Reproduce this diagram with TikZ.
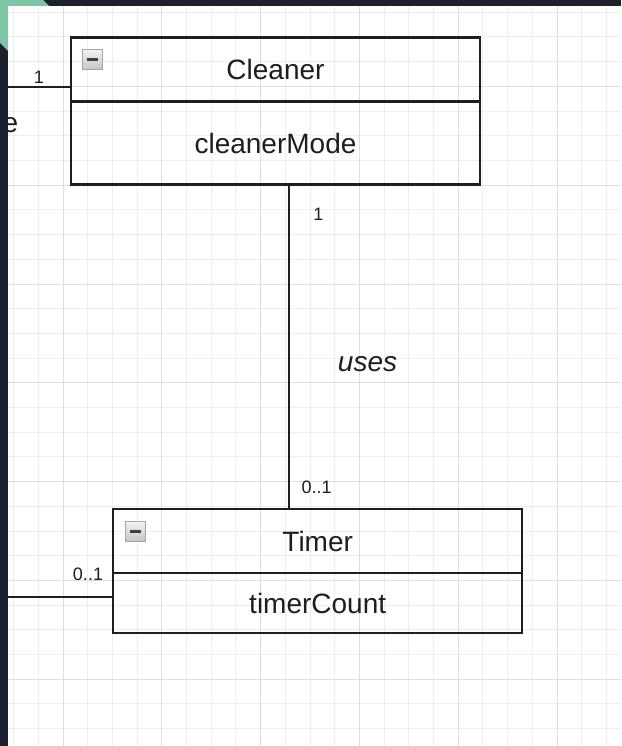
\documentclass[tikz,border=0pt]{standalone}
\usepackage{xcolor}
\usepackage{fontspec}
\usepackage{tikz}
\setmainfont{Liberation Sans}
\usetikzlibrary{positioning}
\definecolor{ink}{RGB}{30,30,30}
\definecolor{frame}{RGB}{28,33,45}
\definecolor{mint}{RGB}{125,197,165}
\definecolor{gridmin}{RGB}{238,238,238}
\definecolor{gridmaj}{RGB}{222,222,222}

\begin{document}
\begin{tikzpicture}[x=1pt, y=-1pt,
    head/.style={rectangle, draw=ink, line width=2.2pt, outer sep=0pt,
                 minimum width=409pt, minimum height=64pt, inner sep=0pt,
                 text=ink, font=\fontsize{28}{32}\selectfont},
    attr/.style={head, minimum height=#1},
    fold/.style={rectangle, draw=gray!70, top color=gray!10, bottom color=gray!45,
                 minimum size=20pt, inner sep=0pt},
    assoc/.style={draw=ink, line width=2.2pt},
    mult/.style={anchor=base, inner sep=0pt, text=ink, font=\fontsize{18}{20}\selectfont},
    big/.style={anchor=base, inner sep=0pt, text=ink, font=\fontsize{28}{32}\selectfont}
]
\useasboundingbox (0,0) rectangle (621,746);
\fill[white] (0,0) rectangle (621,746);

% background grid, heavier every fourth line
\foreach \i in {-22,...,2} {
    \draw[gridmin, line width=1pt] (557+24.7*\i,0) -- (557+24.7*\i,746);
}
\foreach \i in {-11,...,18} {
    \draw[gridmin, line width=1pt] (0,284+24.7*\i) -- (621,284+24.7*\i);
}
\foreach \i in {-5,...,0} {
    \draw[gridmaj, line width=1pt] (557+98.8*\i,0) -- (557+98.8*\i,746);
}
\foreach \i in {-2,...,4} {
    \draw[gridmaj, line width=1pt] (0,284+98.8*\i) -- (621,284+98.8*\i);
}

% classes
\node[head] (cleaner) at (275.5,69.5) {Cleaner};
\node[attr=83pt, below=0pt of cleaner] (cleanermode) {cleanerMode};
\node[fold] (cleanerfold) at ([shift={(21,22)}]cleaner.north west) {\color{ink!85}\rule{11pt}{2.6pt}};

\node[head] (timer) at (317.7,541.3) {Timer};
\node[attr=59.5pt, below=0pt of timer] (timercount) {timerCount};
\node[fold] (timerfold) at ([shift={(22,22)}]timer.north west) {\color{ink!85}\rule{11pt}{2.6pt}};

% associations
\coordinate (westA) at (0,87);
\coordinate (westB) at (0,597);
\draw[assoc] (westA) -- (westA -| cleaner.west);
\draw[assoc] (westB) -- (westB -| timercount.west);
\draw[assoc] ([xshift=13.5pt]cleanermode.south) -- ([xshift=13.5pt]cleanermode.south |- timer.north);

\node[mult] (mA) at (39,84) {1};
\node[big] (cut) at (10.5,133) {e};
\node[mult] (mC) at (318.5,220) {1};
\node[big, font=\fontsize{28}{32}\selectfont\itshape] (uses) at (367.5,371) {uses};
\node[mult] (mT) at (316.7,493) {0..1};
\node[mult] (mB) at (88,580) {0..1};

% dark window frame with the mint corner
\fill[frame] (0,0) rectangle (8,746);
\fill[frame] (0,0) rectangle (621,6);
\begin{scope}
    \clip (0,0) rectangle (8,746) (0,0) rectangle (621,6);
    \fill[mint] (0,0) -- (43,0) -- (80,37) -- (37,80) -- (0,43) -- cycle;
\end{scope}
\end{tikzpicture}
\end{document}
